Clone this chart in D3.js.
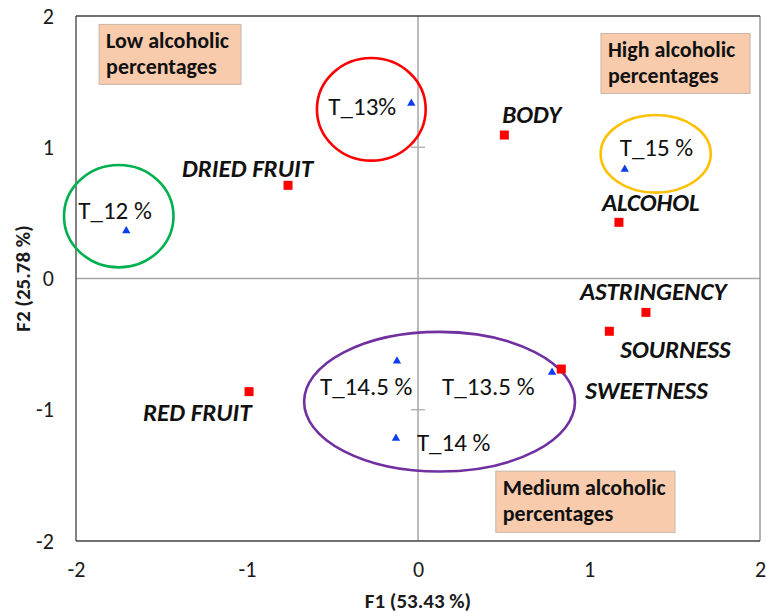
<!DOCTYPE html>
<html><head><meta charset="utf-8">
<script src="https://cdn.jsdelivr.net/npm/d3@7"></script>
<style>
html,body{margin:0;padding:0;background:#fff;}
text{font-family:Carlito,Calibri,Lato,sans-serif;}
</style></head>
<body><svg id="c" width="766" height="613"></svg>
<script>
// ---- data ----
const variableNames = ["DRIED FRUIT","BODY","ALCOHOL","ASTRINGENCY","SOURNESS","SWEETNESS","RED FRUIT"];
const variableF1 = [-0.76, 0.505, 1.175, 1.333, 1.119, 0.838, -0.988];
const variableF2 = [0.71, 1.093, 0.428, -0.258, -0.402, -0.69, -0.862];

const sampleNames = ["T_12 %","T_13%","T_15 %","T_14.5 %","T_13.5 %","T_14 %"];
const sampleF1 = [-1.706, -0.039, 1.209, -0.123, 0.784, -0.129];
const sampleF2 = [0.364, 1.335, 0.832, -0.629, -0.715, -1.218];

const xTicks = [-2,-1,0,1,2];
const yTicks = [-2,-1,0,1,2];
const xTitle = "F1 (53.43 %)";
const yTitle = "F2 (25.78 %)";

// group ellipses (data units): cx, cy, rx, ry
const groupCx = [-1.750, -0.273, 1.390, 0.126];
const groupCy = [0.475, 1.289, 0.950, -0.939];
const groupRx = [0.320, 0.318, 0.322, 0.792];
const groupRy = [0.390, 0.391, 0.296, 0.532];
const groupColors = ["#00B050","#FF0000","#FFC000","#7030A0"];

const noteLines = [["Low alcoholic","percentages"],["High alcoholic","percentages"],["Medium alcoholic","percentages"]];

// ---- layout (pixel offsets for labels, annotation box anchors) ----
const variableLabelOffset = [[-106,-8],[-2,-12],[-17,-11],[-66,-12],[11,27],[24,30],[-106,29]];
const sampleLabelOffset = [[-48,-12],[-83,12],[-5,-13],[-77,34],[-110,23],[21,13]];
const noteBox = [ // x0,y0,x1,y1 in data units
  [-1.865, 1.936, -1.035, 1.479],
  [1.070, 1.867, 1.942, 1.410],
  [0.455, -1.468, 1.503, -1.934]
];

const svg = d3.select("#c");
const x = d3.scaleLinear().domain([-2,2]).range([76,760]);
const y = d3.scaleLinear().domain([-2,2]).range([541,16]);

// zero lines
svg.append("line").attr("x1",x(-2)).attr("x2",x(2)).attr("y1",y(0)).attr("y2",y(0))
  .attr("stroke","#a6a6a6").attr("stroke-width",1.5);
svg.append("line").attr("x1",x(0)).attr("x2",x(0)).attr("y1",y(-2)).attr("y2",y(2))
  .attr("stroke","#a6a6a6").attr("stroke-width",1.5);
// cross ticks on vertical zero axis
svg.selectAll(".ct").data(yTicks.filter(d=>d!==0 && Math.abs(d)<2)).join("line")
  .attr("x1",x(0)-7).attr("x2",x(0)+7).attr("y1",d=>y(d)).attr("y2",d=>y(d))
  .attr("stroke","#a6a6a6").attr("stroke-width",1.2);

// frame
svg.append("line").attr("x1",x(2)).attr("x2",x(2)).attr("y1",y(2)).attr("y2",y(-2)).attr("stroke","#8c8c8c").attr("stroke-width",1.3);
svg.append("line").attr("x1",x(-2)).attr("x2",x(2)).attr("y1",y(2)).attr("y2",y(2)).attr("stroke","#404040").attr("stroke-width",1.3);
svg.append("line").attr("x1",x(-2)).attr("x2",x(-2)).attr("y1",y(2)).attr("y2",y(-2)).attr("stroke","#404040").attr("stroke-width",1.3);
svg.append("line").attr("x1",x(-2)).attr("x2",x(2)).attr("y1",y(-2)).attr("y2",y(-2)).attr("stroke","#404040").attr("stroke-width",1.3);

// axes tick labels
const fmt = d => String(d);
const yAxis = d3.axisLeft(y).tickValues(yTicks).tickSize(0).tickPadding(22).tickFormat(fmt);
const gy = svg.append("g").attr("transform",`translate(${x(-2)},0)`).call(yAxis);
gy.select(".domain").remove();
gy.selectAll("text").attr("font-size",22).attr("fill","#1a1a1a").style("font-family","Carlito,Calibri,Lato,sans-serif");
const xAxis = d3.axisBottom(x).tickValues(xTicks).tickSize(0).tickPadding(20).tickFormat(fmt);
const gx = svg.append("g").attr("transform",`translate(0,${y(-2)})`).call(xAxis);
gx.select(".domain").remove();
gx.selectAll("text").attr("font-size",22).attr("fill","#1a1a1a").style("font-family","Carlito,Calibri,Lato,sans-serif");

// axis titles
svg.append("text").attr("x",x(0)).attr("y",608).attr("text-anchor","middle")
  .attr("font-size",21).attr("font-weight","bold").attr("fill","#1a1a1a").text(xTitle);
svg.append("text").attr("transform",`translate(30,${y(0)}) rotate(-90)`).attr("text-anchor","middle")
  .attr("font-size",21).attr("font-weight","bold").attr("fill","#1a1a1a").text(yTitle);

// annotation boxes
noteBox.forEach((b,i)=>{
  const x0=x(b[0]), y0=y(b[1]), x1=x(b[2]), y1=y(b[3]);
  svg.append("rect").attr("x",x0).attr("y",y0).attr("width",x1-x0).attr("height",y1-y0)
    .attr("fill","#F8CBAD").attr("stroke","#c9b5a7").attr("stroke-width",1);
  noteLines[i].forEach((t,j)=>{
    svg.append("text").attr("x",x0+7).attr("y",y0+24+j*26).attr("font-size",22)
      .attr("font-weight","bold").attr("fill","#111").text(t);
  });
});

// ellipses
svg.selectAll(".grp").data(groupCx).join("ellipse")
  .attr("cx",(d,i)=>x(groupCx[i])).attr("cy",(d,i)=>y(groupCy[i]))
  .attr("rx",(d,i)=>x(groupRx[i])-x(0)).attr("ry",(d,i)=>y(0)-y(groupRy[i]))
  .attr("fill","none").attr("stroke",(d,i)=>groupColors[i]).attr("stroke-width",2.6);

// variable squares
const vars = variableNames.map((n,i)=>({n, f1:variableF1[i], f2:variableF2[i], o:variableLabelOffset[i]}));
svg.selectAll(".sq").data(vars).join("rect")
  .attr("x",d=>x(d.f1)-4.5).attr("y",d=>y(d.f2)-4.5).attr("width",9).attr("height",9).attr("fill","#FF0000");
svg.selectAll(".vl").data(vars).join("text")
  .attr("x",d=>x(d.f1)+d.o[0]).attr("y",d=>y(d.f2)+d.o[1])
  .attr("font-size",25).attr("font-weight","bold").attr("font-style","italic").attr("fill","#111").text(d=>d.n);

// sample triangles
const samples = sampleNames.map((n,i)=>({n, f1:sampleF1[i], f2:sampleF2[i], o:sampleLabelOffset[i]}));
svg.selectAll(".tr").data(samples).join("path")
  .attr("d",d3.symbol().type(d3.symbolTriangle).size(30))
  .attr("transform",d=>`translate(${x(d.f1)},${y(d.f2)})`).attr("fill","#0b3cf0");
svg.selectAll(".sl").data(samples).join("text")
  .attr("x",d=>x(d.f1)+d.o[0]).attr("y",d=>y(d.f2)+d.o[1])
  .attr("font-size",25).attr("fill","#111").text(d=>d.n);
</script></body></html>
